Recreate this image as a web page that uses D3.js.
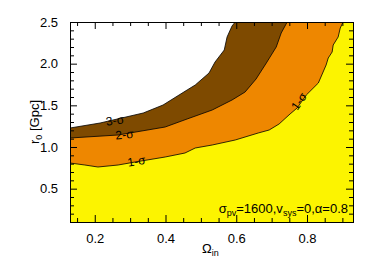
<!DOCTYPE html>
<html>
<head>
<script src="https://d3js.org/d3.v7.min.js"></script>
<meta charset="utf-8">
<style>
  body { margin: 0; background: #FFF; }
  text { font-family: "Liberation Sans", Arial, sans-serif; fill: #000; }
</style>
</head>
<body>
<script>
// contour levels: [omega_in, r0]
var sigma1 = [[0.13,0.808],[0.172,0.784],[0.209,0.76],[0.266,0.784],[0.314,0.82],[0.399,0.88],[0.455,0.928],
  [0.484,0.988],[0.532,1.024],[0.597,1.084],[0.662,1.168],[0.693,1.204],[0.721,1.276],[0.752,1.396],[0.772,1.468],
  [0.798,1.624],[0.832,1.768],[0.854,1.984],[0.860,2.068],[0.871,2.14],[0.874,2.224],[0.888,2.32],[0.894,2.428],[0.902,2.5]];
var sigma2 = [[0.13,1.108],[0.266,1.144],[0.399,1.24],[0.461,1.336],[0.532,1.444],[0.588,1.564],[0.625,1.66],
  [0.656,1.816],[0.685,2.008],[0.713,2.2],[0.727,2.368],[0.744,2.5]];
var sigma3 = [[0.13,1.228],[0.215,1.288],[0.337,1.408],[0.393,1.504],[0.461,1.684],[0.484,1.744],[0.523,1.888],
  [0.540,2.02],[0.566,2.164],[0.574,2.32],[0.588,2.452],[0.597,2.5]];

var xTicks = [0.2, 0.4, 0.6, 0.8];
var yTicks = [0.5, 1.0, 1.5, 2.0, 2.5];

var W = 374, H = 267;
var x0 = 70, x1 = 353, y0 = 222, y1 = 22;

var svg = d3.select('body').append('svg').attr('width', W).attr('height', H);

var x = d3.scaleLinear().domain([0.13, 0.93]).range([x0, x1]);
var y = d3.scaleLinear().domain([0.1, 2.5]).range([y0, y1]);

var line = d3.line().x(function(d){ return x(d[0]); }).y(function(d){ return y(d[1]); });

svg.append('rect').attr('x', x0).attr('y', y1).attr('width', x1 - x0).attr('height', y0 - y1).attr('fill', '#FCF400');

function above(pts, col){
  var poly = pts.concat([[0.13, 2.5]]);
  svg.append('path').attr('d', line(poly) + 'Z').attr('fill', col);
}
above(sigma1, '#EE8700');
above(sigma2, '#7E4A00');
above(sigma3, '#FFFFFF');

[sigma1, sigma2, sigma3].forEach(function(c){
  svg.append('path').attr('d', line(c)).attr('fill', 'none').attr('stroke', '#000').attr('stroke-width', 0.8);
});

// contour labels
var labels = [
  {t: '3-', v: [0.257, 1.32], r: -8},
  {t: '2-', v: [0.284, 1.15], r: -5},
  {t: '1-', v: [0.318, 0.83], r: -10},
  {t: '1-', v: [0.777, 1.55], r: -55}
];
labels.forEach(function(l){
  var g = svg.append('text')
    .attr('transform', 'translate(' + x(l.v[0]) + ',' + y(l.v[1]) + ') rotate(' + l.r + ')')
    .attr('text-anchor', 'middle').attr('dy', '0.35em').style('font-size', '12px');
  g.text(l.t + 'σ');
});

// axes: ticks inward on all four sides
var blank = function(){ return ''; };
var axBottom = d3.axisBottom(x).tickValues(xTicks).tickFormat(d3.format('.1f')).tickSize(-7).tickPadding(12);
var axTop = d3.axisTop(x).tickValues(xTicks).tickFormat(blank).tickSize(-7);
var axLeft = d3.axisLeft(y).tickValues(yTicks).tickFormat(d3.format('.1f')).tickSize(-7).tickPadding(12);
var axRight = d3.axisRight(y).tickValues(yTicks).tickFormat(blank).tickSize(-7);

var xMinor = d3.range(0.15, 0.93, 0.05).filter(function(v){ return Math.abs(Math.round(v * 5) - v * 5) > 0.01; });
var yMinor = d3.range(0.2, 2.5, 0.1).filter(function(v){ return Math.abs(Math.round(v * 2) - v * 2) > 0.01; });

function minor(ax, vals){ return ax.tickValues(vals).tickFormat(blank).tickSize(-4); }

svg.append('g').attr('transform', 'translate(0,' + y0 + ')').call(minor(d3.axisBottom(x), xMinor));
svg.append('g').attr('transform', 'translate(0,' + y1 + ')').call(minor(d3.axisTop(x), xMinor));
svg.append('g').attr('transform', 'translate(' + x0 + ',0)').call(minor(d3.axisLeft(y), yMinor));
svg.append('g').attr('transform', 'translate(' + x1 + ',0)').call(minor(d3.axisRight(y), yMinor));

svg.append('g').attr('class', 'ax').attr('transform', 'translate(0,' + y0 + ')').call(axBottom);
svg.append('g').attr('transform', 'translate(0,' + y1 + ')').call(axTop);
svg.append('g').attr('class', 'ax').attr('transform', 'translate(' + x0 + ',0)').call(axLeft);
svg.append('g').attr('transform', 'translate(' + x1 + ',0)').call(axRight);

svg.selectAll('.domain').attr('stroke', '#000');
svg.selectAll('.tick line').attr('stroke', '#000');
svg.selectAll('.ax text').style('font-size', '13px').style('font-family', '"Liberation Sans", Arial, sans-serif');

// axis titles
var yl = svg.append('text').attr('transform', 'translate(39,122) rotate(-90)').attr('text-anchor', 'middle').style('font-size', '13px');
yl.append('tspan').text('r');
yl.append('tspan').attr('dy', 3).style('font-size', '9px').text('0');
yl.append('tspan').attr('dy', -3).text(' [Gpc]');

var xl = svg.append('text').attr('x', 202).attr('y', 253).style('font-size', '13px');
xl.append('tspan').text('Ω');
xl.append('tspan').attr('dy', 3).style('font-size', '9px').text('in');

// annotation
var an = svg.append('text').attr('x', 348).attr('y', 213).attr('text-anchor', 'end').style('font-size', '13px');
an.append('tspan').text('σ');
an.append('tspan').attr('dy', 3).style('font-size', '9px').text('pv');
an.append('tspan').attr('dy', -3).text('=1600,v');
an.append('tspan').attr('dy', 3).style('font-size', '9px').text('sys');
an.append('tspan').attr('dy', -3).text('=0,α=0.8');
</script>
</body>
</html>
